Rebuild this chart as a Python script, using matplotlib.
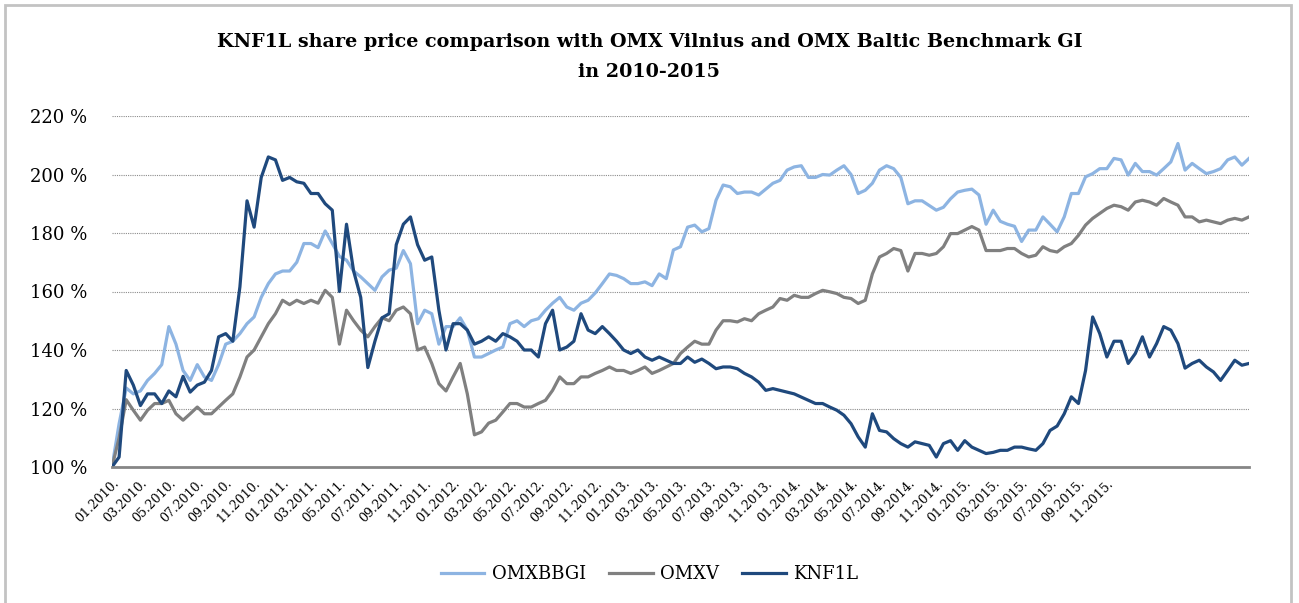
import matplotlib
matplotlib.use("Agg")
import matplotlib.pyplot as plt
from matplotlib.patches import Rectangle

# values, one every quarter of a tick-label step
step = 0.25

omxbbgi = [
    100, 114.8, 127, 125, 126, 129.6, 132, 135, 148, 142, 133, 129.6, 135, 130.8,
    129.6, 135, 142, 143, 145.6, 149, 151.3, 158, 162.7, 166, 167, 167, 170,
    176.4, 176.4, 175, 180.7, 176.4, 172, 170.7, 167, 165, 162.7, 160.4, 165, 167.3,
    168, 174, 169.5, 149, 153.6, 152.4, 142, 148, 148, 151, 146.8, 137.6, 137.6, 138.8,
    140, 141, 149, 150, 148, 150, 150.7, 153.6, 156, 158, 154.7, 153.6, 156, 157,
    159.5, 162.7, 166, 165.5, 164.4, 162.7, 162.7, 163.3, 162, 166, 164.4, 174.2,
    175.3, 182, 182.7, 180.4, 181.5, 191.2, 196.4, 195.8, 193.5, 194, 194, 193, 195,
    197, 198, 201.5, 202.6, 203, 199, 199, 200, 199.8, 201.5, 203, 200, 193.5, 194.6,
    197, 201.5, 203, 202, 199, 190, 191, 191, 189.4, 187.8, 188.8, 191.7, 194, 194.6,
    195, 193, 183, 187.8, 184, 183, 182.3, 177.1, 181, 181, 185.5, 183, 180.4,
    185.5, 193.5, 193.5, 199.2, 200.3, 202, 202, 205.5, 205, 199.8, 203.8, 201, 201,
    199.8, 202, 204.3, 210.6, 201.5, 203.8, 202, 200.3, 201, 202, 205, 206, 203.2, 205.5,
]

omxv = [
    100, 110, 123, 119.4, 116, 119.4, 121.7, 121.7, 122.8, 118.2, 116, 118.2, 120.5,
    118.2, 118.2, 120.5, 122.8, 125, 130.8, 137.6, 140, 144.5, 149, 152.4, 157, 155.5, 157,
    155.9, 157, 156, 160.4, 158, 142, 153.6, 150, 146.8, 144.5, 148, 151, 150, 153.6,
    154.7, 152.4, 140, 141, 135.4, 128.5, 126, 130.8, 135.4, 125, 111, 112, 115,
    116, 118.8, 121.7, 121.7, 120.5, 120.5, 121.7, 122.8, 126.2, 130.8, 128.5, 128.5,
    130.8, 130.8, 132, 133, 134.2, 133, 133, 132, 133, 134.2, 132, 133, 134.2, 135.4,
    138.8, 141, 143, 142, 142, 146.8, 150, 150, 149.6, 150.7, 150, 152.4, 153.6, 154.7,
    157.6, 157, 158.7, 158, 158, 159.3, 160.4, 159.9, 159.3, 158, 157.6, 155.9, 157,
    166, 171.8, 173, 174.7, 174, 167, 173, 173, 172.4, 173, 175.3, 179.8, 179.8, 181,
    182.2, 181, 174, 174, 174, 174.7, 174.7, 173, 171.8, 172.4, 175.3, 174, 173.5,
    175.3, 176.4, 179.2, 182.7, 185, 186.7, 188.4, 189.5, 189, 187.8, 190.6, 191.2, 190.6,
    189.5, 191.8, 190.6, 189.5, 185.5, 185.5, 183.8, 184.4, 183.8, 183.2, 184.4, 185, 184.4, 185.5,
]

knf1l = [
    100, 103.4, 133, 128, 121, 125, 125, 121.7, 126, 124, 131, 125.6, 128, 129, 133,
    144.5, 145.6, 143, 161.6, 191, 182, 199, 206, 205, 198, 199, 197.5,
    197, 193.5, 193.5, 190, 187.8, 160, 183, 167, 158, 134, 143, 151, 152.4, 176, 183,
    185.5, 176, 170.7, 171.8, 153.6, 140, 149, 149, 146.8, 142, 143, 144.5,
    143, 145.6, 144.5, 143, 140, 140, 137.6, 149, 153.6, 140, 141, 143, 152.4, 146.8,
    145.6, 148, 145.6, 143, 140, 138.8, 140, 137.6, 136.5, 137.6, 136.5, 135.4,
    135.4, 137.6, 135.8, 136.9, 135.4, 133.6, 134.2, 134.2, 133.6, 132, 130.8, 129, 126.2,
    126.8, 126.2, 125.6, 125, 123.9, 122.8, 121.7, 121.7, 120.5, 119.4, 117.7, 114.8, 110.3, 106.8,
    118.2, 112.5, 112, 109.7, 108, 106.8, 108.6, 108, 107.4, 103.4, 108, 109, 105.7, 109,
    106.8, 105.7, 104.6, 105, 105.7, 105.7, 106.8, 106.8, 106.2, 105.7, 108, 112.5, 114,
    118.2, 124, 121.7, 133, 151.3, 145.6, 137.6, 143, 143, 135.4, 138.8, 144.5, 137.6,
    142.2, 148, 146.8, 142.2, 133.8, 135.4, 136.5, 134.2, 132.5, 129.6, 133, 136.5, 134.8, 135.4,
]

assert len(omxbbgi) == len(omxv) == len(knf1l)
x = [i * step for i in range(len(knf1l))]

month_labels = [f"{m:02d}.{y}." for y in range(2010, 2016) for m in range(1, 13, 2)]
yticks = [100, 120, 140, 160, 180, 200, 220]

plt.rcParams["font.family"] = "DejaVu Serif"

fig = plt.figure(figsize=(12.99, 6.03), dpi=100)
ax = fig.add_axes([112 / 1299, 136 / 603, 1137 / 1299, 351 / 603])

ax.plot(x, omxbbgi, color="#8DB4E2", lw=2.3, label="OMXBBGI")
ax.plot(x, omxv, color="#808080", lw=2.3, label="OMXV")
ax.plot(x, knf1l, color="#1F497D", lw=2.3, label="KNF1L")

ax.set_xlim(0, 40)
ax.set_ylim(100, 220)
ax.set_yticks(yticks)
ax.set_yticklabels([f"{v} %" for v in yticks], fontsize=13)
ax.set_xticks(range(len(month_labels)))
ax.set_xticklabels(month_labels, rotation=45, ha="right", va="top",
                   rotation_mode="anchor", fontsize=9)
ax.tick_params(axis="both", length=0)
ax.tick_params(axis="y", pad=18)
ax.tick_params(axis="x", pad=7)
ax.grid(axis="y", ls=(0, (1, 1)), color="#8c8c8c", lw=0.8)
ax.set_axisbelow(True)
for s in ["top", "left", "right"]:
    ax.spines[s].set_visible(False)
ax.spines["bottom"].set_color("#868686")
ax.spines["bottom"].set_linewidth(2)

fig.text(0.5, 1 - 42 / 603, "KNF1L share price comparison with OMX Vilnius and OMX Baltic Benchmark GI",
         ha="center", va="center", fontsize=13.8, fontweight="bold")
fig.text(0.5, 1 - 72 / 603, "in 2010-2015",
         ha="center", va="center", fontsize=13.8, fontweight="bold")

fig.legend(loc="center", bbox_to_anchor=(0.5, 29 / 603), ncol=3, frameon=False,
           fontsize=13, handlelength=2.4, handletextpad=0.4, columnspacing=1.3)

fig.patches.append(Rectangle((5 / 1299, -0.05), 1286 / 1299, 1.0417,
                             transform=fig.transFigure, fill=False,
                             edgecolor="#c3c3c3", lw=2))

plt.savefig("out.png", dpi=100)
